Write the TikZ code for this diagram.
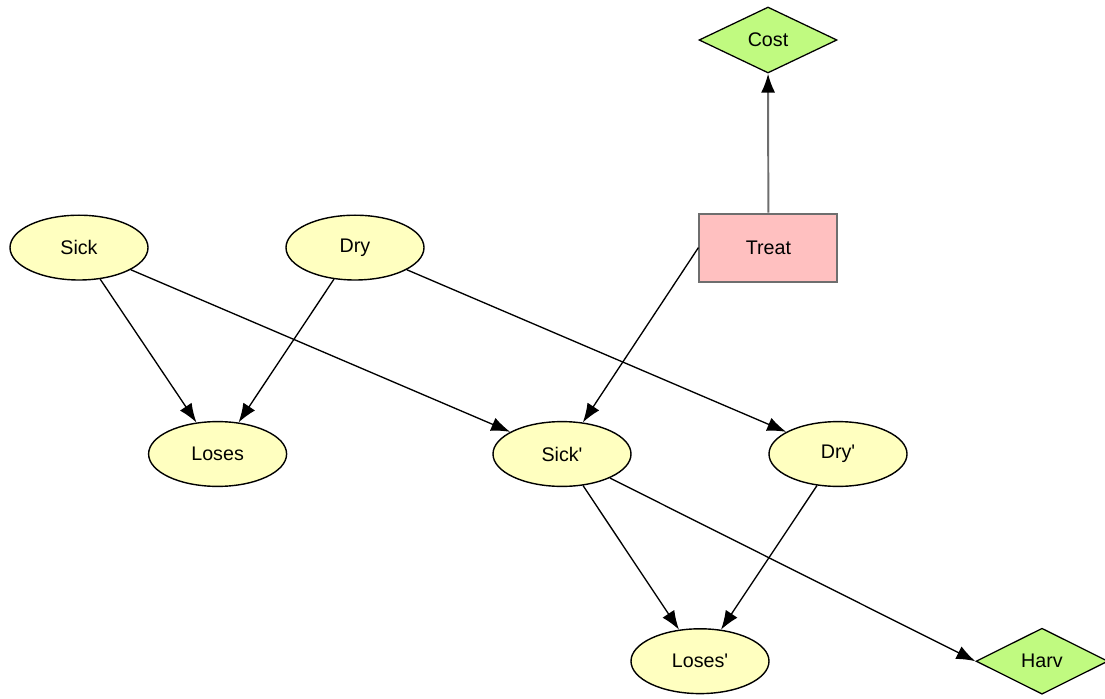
\documentclass[tikz,border=0pt]{standalone}
\usepackage{fontspec}
\setmainfont{Liberation Sans}
\usepackage{tikz}
\usetikzlibrary{arrows.meta}
\usetikzlibrary{shapes.geometric}
\definecolor{chance}{RGB}{255,255,192}
\definecolor{decision}{RGB}{255,192,192}
\definecolor{utility}{RGB}{192,250,128}
\definecolor{boxline}{RGB}{110,110,110}
\tikzstyle{chancenode} = [draw, ellipse, fill=chance, line width=1.0pt, minimum width=3.45cm, minimum height=1.62cm, inner sep=0pt]
\tikzstyle{decisionnode} = [draw=boxline, rectangle, fill=decision, line width=1.4pt, minimum width=3.45cm, minimum height=1.7cm]
\tikzstyle{utilitynode} = [draw, diamond, aspect=2.1, fill=utility, line width=0.9pt, minimum width=3.45cm, minimum height=1.65cm, inner sep=0pt]
\tikzstyle{line} = [draw, -{Latex[length=13.5pt,width=10pt,color=black]}, line width=0.95pt]

\begin{document}
\begin{tikzpicture}[font=\fontsize{14}{16}\selectfont]
	\useasboundingbox (0,0) rectangle (27.625,17.45);
	% -------------- Time slice 0 --------------
	\node[chancenode] (sick)   at (1.975,11.26) {Sick};
	\node[chancenode] (dry)    at (8.875,11.26) {Dry};
	\node[chancenode] (loses)  at (5.44,6.1)    {Loses};
	% -------------- Decision and cost --------------
	\node[decisionnode] (treat) at (19.21,11.26) {Treat};
	\node[utilitynode] (cost)   at (19.2,16.45)  {Cost};
	% -------------- Time slice 1 --------------
	\node[chancenode] (sickp)  at (14.05,6.1)   {Sick\textquotesingle};
	\node[chancenode] (dryp)   at (20.95,6.1)   {Dry\textquotesingle};
	\node[chancenode] (losesp) at (17.5,0.92)   {Loses\textquotesingle};
	\node[utilitynode, minimum width=3.3cm] (harv) at (26.05,0.92) {Harv};
	% -------------- Arcs --------------
	\draw[line] (sick)  -- (loses);
	\draw[line] (dry)   -- (loses);
	\draw[line] (sick)  -- (sickp);
	\draw[line] (dry)   -- (dryp);
	\draw[line, draw=boxline, line width=1.4pt] (treat) -- (cost);
	\draw[line] (treat.west) -- (sickp);
	\draw[line] (sickp) -- (losesp);
	\draw[line] (dryp)  -- (losesp);
	\draw[line] (sickp) -- (harv.west);
\end{tikzpicture}
\end{document}
